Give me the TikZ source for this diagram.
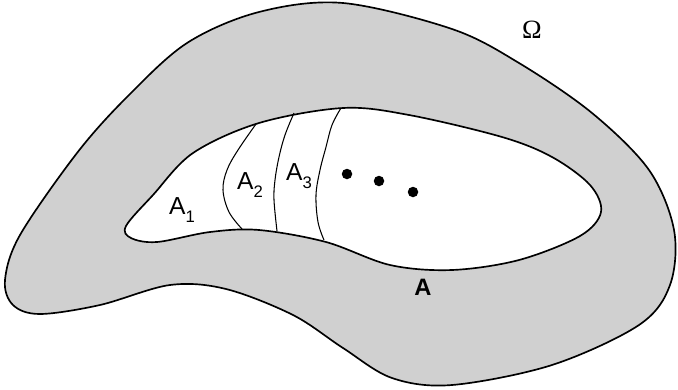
\documentclass[tikz,border=0pt]{standalone}
\usepackage{fontspec}
\setmainfont{Liberation Serif}
\newfontfamily\helv{Liberation Sans}
\usepackage{tikz}
\definecolor{regiongray}{HTML}{D0D0D0}
\newcommand{\lowsub}[1]{\raisebox{-0.3em}{\fontsize{9.5}{10}\selectfont #1}}

\begin{document}
\begin{tikzpicture}[x=0.02cm, y=-0.02cm,
  rim/.style={draw=black, line width=0.95pt, fill=regiongray, even odd rule},
  cut/.style={draw=black, line width=0.6pt},
  lbl/.style={inner sep=0pt, font=\helv\fontsize{14}{16}\selectfont},
  dot/.style={circle, fill=black, inner sep=0pt, minimum size=0.21cm}]
  \useasboundingbox (0,0) rectangle (678,389);
  % outer set Omega minus hole A
  \path[rim]
    plot[smooth cycle, tension=0.55] coordinates {
      (343,3) (452,29) (519,63) (592,113) (649,170) (674,230) (670,285)
      (639,325) (552,365) (452,385) (392,378) (343,348) (293,315) (226,289)
      (170,285) (100,305) (40,314) (13,305) (5,280) (20,235) (77,153)
      (127,97) (187,43) (259,12)}
    plot[smooth cycle, tension=0.55] coordinates {
      (343,108) (409,115) (502,137) (552,157) (590,185) (601,212) (580,236)
      (519,260) (452,270) (390,265) (326,242) (259,230) (210,232) (157,242)
      (131,238) (126,226) (153,195) (193,153) (259,123)};
  % cuts between A_1, A_2, A_3
  \draw[cut] plot[smooth, tension=0.6] coordinates {
    (256,124) (238,150) (227,170) (223,190) (229,212) (242,229)};
  \draw[cut] plot[smooth, tension=0.6] coordinates {
    (294,113) (285,135) (279,157) (275,180) (274,200) (277,231)};
  \draw[cut] plot[smooth, tension=0.6] coordinates {
    (341,108) (332,125) (326,147) (320,170) (316,195) (318,222) (324,240)};
  \node[lbl] (a1) at (182,210) {A\lowsub{1}};
  \node[lbl] (a2) at (250,185) {A\lowsub{2}};
  \node[lbl] (a3) at (299,176) {A\lowsub{3}};
  \node[dot] (d1) at (347,174) {};
  \node[dot] (d2) at (379,181) {};
  \node[dot] (d3) at (413,192) {};
  \node[lbl, font=\helv\bfseries\fontsize{13.5}{15}\selectfont] (aset) at (423,287) {A};
  \node[inner sep=0pt, font=\fontsize{15}{17}\selectfont] (omega) at (532,30) {Ω};
\end{tikzpicture}
\end{document}
